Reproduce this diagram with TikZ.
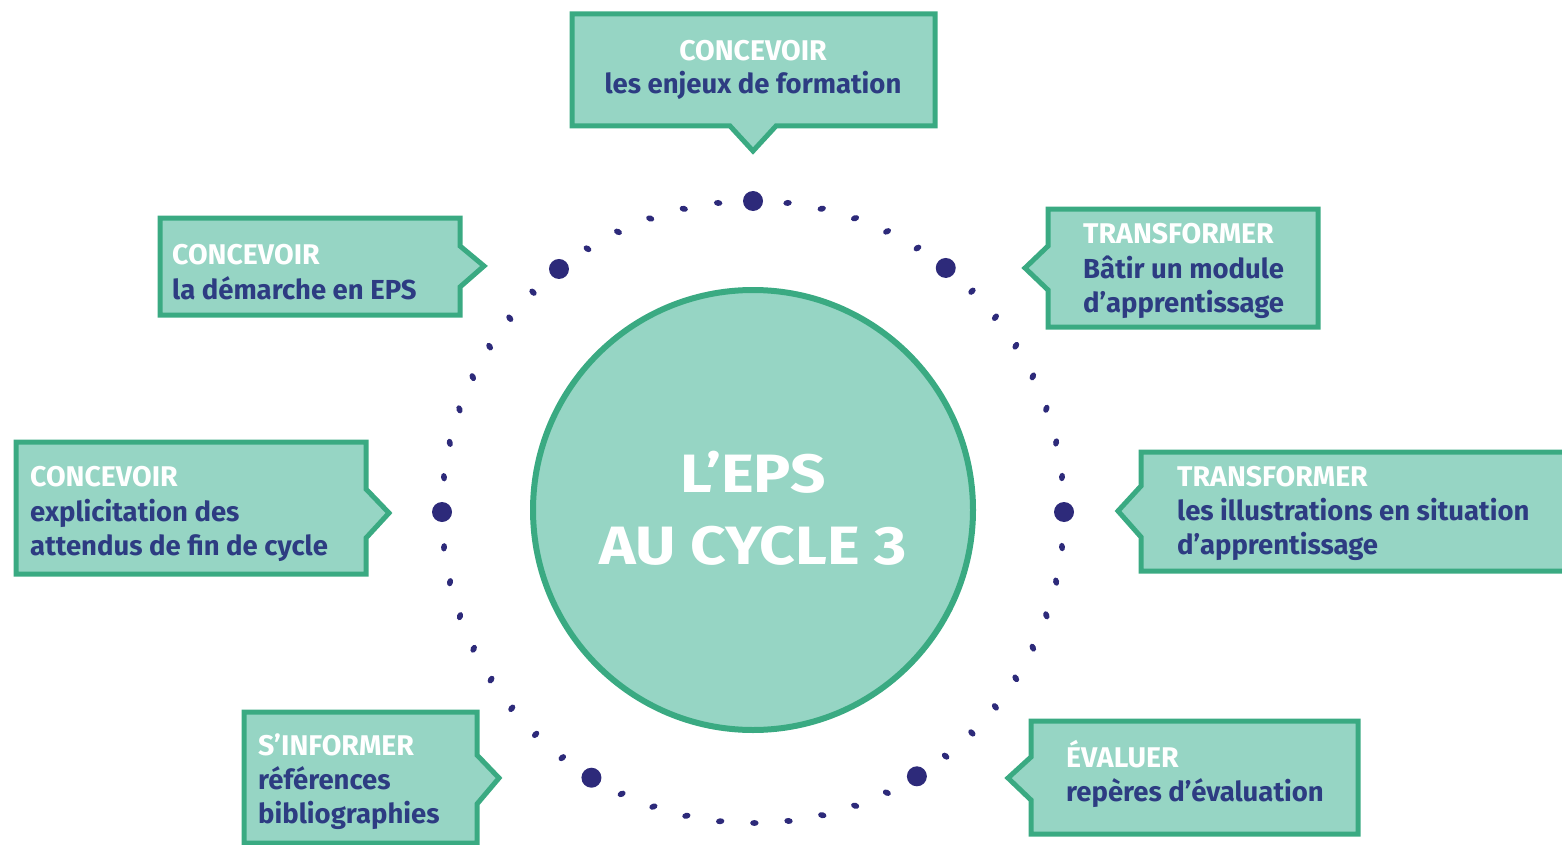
\documentclass[tikz,border=0pt]{standalone}
\usepackage{fontspec}
\setmainfont{Fira Sans}
\newfontfamily\widefira[FakeStretch=1.15]{Fira Sans}
\definecolor{mint}{HTML}{96D5C4}
\definecolor{mintline}{HTML}{3AAA82}
\definecolor{navy}{HTML}{2D3C82}
\definecolor{dotc}{HTML}{2D2A7A}
\tikzset{
  callbox/.style={fill=mint, draw=mintline, line width=5pt, line join=miter},
  hd/.style={inner sep=0pt, text=white, font=\fontsize{28.5}{28.5}\selectfont\bfseries},
  tx/.style={inner sep=0pt, text=navy, font=\fontsize{27.5}{27.5}\selectfont\bfseries},
  big/.style={inner sep=0pt, text=white, font=\widefira\fontsize{54}{54}\selectfont\bfseries},
}
\begin{document}
\begin{tikzpicture}[x=1pt,y=-1pt]
\useasboundingbox (0,0) rectangle (1562,845);
% dotted ring
\begin{scope}[shift={(753,512)}, yscale=-1]
  \foreach \a in {0,51.7,90,128.6,180,238.7,301.8}
    \fill[dotc] (\a:311) circle[radius=10pt];
  \foreach \a/\b/\n in {0/51.7/8, 51.7/90/6, 90/128.6/6, 128.6/180/8, 180/238.7/9, 238.7/301.8/10, 301.8/360/9} {
    \pgfmathtruncatemacro\m{\n-1}
    \foreach \i in {1,...,\m} {
      \pgfmathsetmacro\t{\a+(\b-\a)*\i/\n}
      \fill[dotc, rotate around={\t+90:(\t:311)}] (\t:311) ellipse [x radius=4.2pt, y radius=3pt];
    }
  }
\end{scope}
% center circle
\node[circle, fill=mint, draw=mintline, line width=6pt, minimum size=440pt, inner sep=0pt] (core) at (753,510) {};
\node[big, anchor=base] (t1) at (753,492) {L’EPS};
\node[big, anchor=base] (t2) at (753,564) {AU CYCLE 3};
% box 1 top
\draw[callbox] (572,14) -- (935,14) -- (935,126) -- (776,126) -- (753,151) -- (730,126) -- (572,126) -- cycle;
\node[hd, anchor=base] (b1a) at (753,61) {CONCEVOIR};
\node[tx, anchor=base] (b1b) at (753,94) {les enjeux de formation};
% box 2 upper left
\draw[callbox] (160,218) -- (460,218) -- (460,246) -- (484,266) -- (460,287) -- (460,315) -- (160,315) -- cycle;
\node[hd, anchor=base west] (b2a) at (172,264) {CONCEVOIR};
\node[tx, anchor=base west] (b2b) at (172,299) {la démarche en EPS};
% box 3 left
\draw[callbox] (16,442) -- (366,442) -- (366,489) -- (389,513) -- (366,538) -- (366,574) -- (16,574) -- cycle;
\node[hd, anchor=base west] (b3a) at (30,486) {CONCEVOIR};
\node[tx, anchor=base west] (b3b) at (30,521) {explicitation des};
\node[tx, anchor=base west] (b3c) at (30,555) {attendus de fin de cycle};
% box 4 upper right
\draw[callbox] (1048,209) -- (1318,209) -- (1318,327) -- (1048,327) -- (1048,290) -- (1025,268) -- (1048,246) -- cycle;
\node[hd, anchor=base west] (b4a) at (1083,243) {TRANSFORMER};
\node[tx, anchor=base west] (b4b) at (1083,278) {Bâtir un module};
\node[tx, anchor=base west] (b4c) at (1083,312) {d’apprentissage};
% box 5 right
\draw[callbox] (1141,452) -- (1566,452) -- (1566,571) -- (1141,571) -- (1141,537) -- (1118,511) -- (1141,486) -- cycle;
\node[hd, anchor=base west] (b5a) at (1177,486) {TRANSFORMER};
\node[tx, anchor=base west] (b5b) at (1177,520) {les illustrations en situation};
\node[tx, anchor=base west] (b5c) at (1177,554) {d’apprentissage};
% box 6 lower left
\draw[callbox] (244,712) -- (477,712) -- (477,755) -- (499,778) -- (477,804) -- (477,843) -- (244,843) -- cycle;
\node[hd, anchor=base west] (b6a) at (258,755) {S’INFORMER};
\node[tx, anchor=base west] (b6b) at (258,789) {références};
\node[tx, anchor=base west] (b6c) at (258,823) {bibliographies};
% box 7 lower right
\draw[callbox] (1031,721) -- (1358,721) -- (1358,834) -- (1031,834) -- (1031,800) -- (1008,778) -- (1031,757) -- cycle;
\node[hd, anchor=base west] (b7a) at (1066,767) {ÉVALUER};
\node[tx, anchor=base west] (b7b) at (1066,801) {repères d’évaluation};
\end{tikzpicture}
\end{document}
